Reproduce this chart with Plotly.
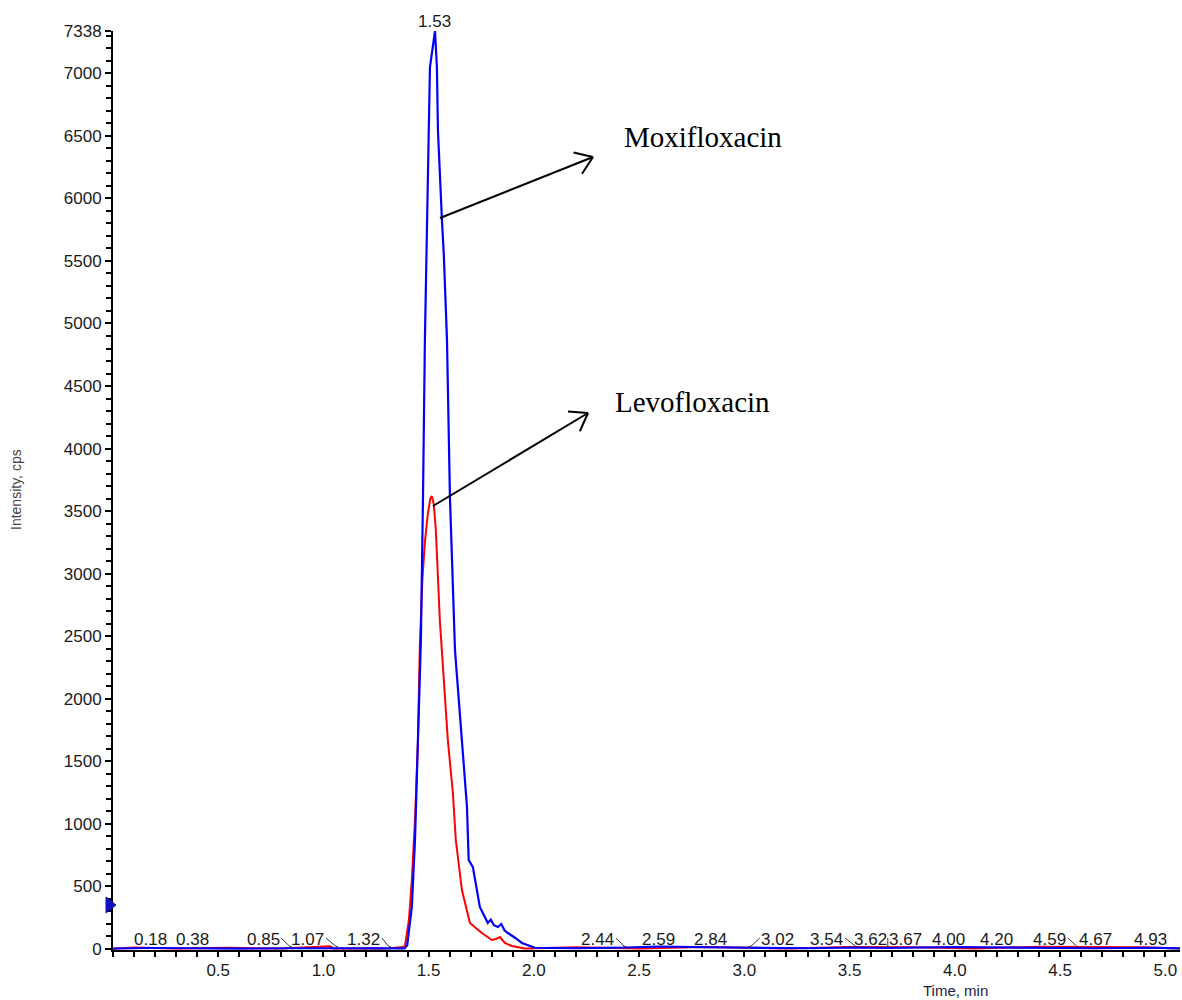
import math
import plotly.graph_objects as go

# ---- chromatogram data (time in min, intensity in cps) ----
moxi_time = [0.00, 0.18, 0.38, 0.60, 0.85, 1.07, 1.32, 1.385, 1.398, 1.420, 1.435, 1.449,
             1.463, 1.473, 1.482, 1.506, 1.530, 1.539, 1.544, 1.563, 1.572, 1.587, 1.601,
             1.625, 1.658, 1.682, 1.690, 1.710, 1.743, 1.765, 1.781, 1.795, 1.810, 1.829,
             1.845, 1.860, 1.876, 1.910, 1.943, 2.005, 2.20, 2.44, 2.59, 2.84, 3.02, 3.30,
             3.54, 3.62, 3.67, 4.00, 4.20, 4.40, 4.59, 4.67, 4.93, 5.07]
moxi_cps = [4, 8, 6, 3, 6, 5, 7, 5, 30, 336, 871, 1670,
            2469, 3612, 4867, 7048, 7338, 7048, 6545, 5825, 5546, 4867, 3612,
            2389, 1670, 1135, 711, 655, 336, 260, 208, 235, 190, 176,
            200, 150, 128, 90, 48, 10, 6, 12, 20, 14, 10, 6,
            12, 10, 8, 16, 12, 6, 8, 6, 10, 5]

levo_time = [0.00, 0.10, 0.30, 0.55, 0.80, 1.01, 1.03, 1.05, 1.30, 1.375, 1.387, 1.406,
             1.420, 1.435, 1.449, 1.458, 1.470, 1.482, 1.496, 1.508, 1.515, 1.524, 1.534,
             1.553, 1.563, 1.591, 1.615, 1.629, 1.658, 1.696, 1.724, 1.753, 1.800, 1.820,
             1.838, 1.862, 1.895, 1.957, 2.20, 2.50, 2.80, 3.20, 3.50, 3.80, 4.10, 4.40,
             4.90, 5.07]
levo_cps = [2, 12, 4, 10, 3, 20, 22, 4, 3, 15, 20, 232,
            551, 1031, 1670, 2429, 2950, 3250, 3480, 3600, 3620, 3560, 3348,
            2629, 2389, 1670, 1247, 871, 471, 208, 168, 128, 72, 80,
            96, 48, 24, 4, 14, 4, 16, 4, 15, 14, 3, 18,
            14, 4]

peak_times = [0.18, 0.38, 0.85, 1.07, 1.32, 1.53, 2.44, 2.59, 2.84, 3.02,
              3.54, 3.62, 3.67, 4.00, 4.20, 4.59, 4.67, 4.93]

y_tickvals = [0, 500, 1000, 1500, 2000, 2500, 3000, 3500, 4000, 4500,
              5000, 5500, 6000, 6500, 7000, 7338]
x_tickvals = [0.5, 1.0, 1.5, 2.0, 2.5, 3.0, 3.5, 4.0, 4.5, 5.0]

compound_labels = ["Moxifloxacin", "Levofloxacin"]

# ---- geometry of the plotting area ----
W, H = 1182, 1000
ML, MR, MT, MB = 113, 2, 31, 50
X0, X1 = 0.0, 5.07
Y0, Y1 = -8.0, 7338.0
PW, PH = W - ML - MR, H - MT - MB


def px_x(px):
    return X0 + (px - ML) / PW * (X1 - X0)


def px_y(py):
    return Y1 - (py - MT) / PH * (Y1 - Y0)


def paper_x(px):
    return (px - ML) / PW


def paper_y(py):
    return (H - MB - py) / PH


BLUE = "#0000FF"
RED = "#FF0000"
TXT = "#1a1a1a"
SANS = "Liberation Sans, Arial, sans-serif"
SERIF = "Liberation Serif, Times New Roman, serif"

fig = go.Figure()
fig.add_trace(go.Scatter(x=levo_time, y=levo_cps, mode="lines",
                         line=dict(color=RED, width=2), name="Levofloxacin",
                         hoverinfo="skip"))
fig.add_trace(go.Scatter(x=moxi_time, y=moxi_cps, mode="lines",
                         line=dict(color=BLUE, width=2.2), name="Moxifloxacin",
                         hoverinfo="skip"))

annotations = []
shapes = []

# threshold marker on the intensity axis
tri = [(106, 897), (116, 905), (106, 913)]
shapes.append(dict(type="path", xref="paper", yref="paper", layer="above",
                   path="M " + " L ".join(f"{paper_x(a)},{paper_y(b)}" for a, b in tri) + " Z",
                   fillcolor="#1010c0", line=dict(color="#1010c0", width=1)))

# retention-time labels; some are pushed sideways and joined to the peak by a hook
label_shift = {0.85: -0.137, 1.07: -0.144, 1.32: -0.128, 2.44: -0.136, 3.02: 0.139,
               3.54: -0.148, 3.62: -0.02, 3.67: 0.097, 4.00: -0.03, 4.59: -0.139}
half_w = 18.0 / PW * (X1 - X0)
for t in peak_times:
    if abs(t - 1.53) < 1e-9:
        annotations.append(dict(xref="x", yref="paper", x=t, y=paper_y(21),
                                text=f"{t:.2f}", showarrow=False,
                                xanchor="center", yanchor="middle",
                                font=dict(family=SANS, size=17, color=TXT)))
        continue
    s = label_shift.get(t, 0.0)
    cx = t + s
    annotations.append(dict(x=cx, y=px_y(939), text=f"{t:.2f}", showarrow=False,
                            xanchor="center", yanchor="middle",
                            font=dict(family=SANS, size=17, color=TXT)))
    if abs(s) > 0.05:
        edge = cx + half_w if s < 0 else cx - half_w
        mid = t - 0.012 if s < 0 else t + 0.012
        shapes.append(dict(type="path", xref="x", yref="y",
                           path=f"M {edge},{px_y(938)} L {mid},{px_y(946)} L {t},{px_y(947)}",
                           line=dict(color="#333333", width=1)))

# compound arrows with open heads
arrows = [((440, 218), (593, 157), (622, 137)),
          ((433, 506), (588, 413), (613, 402))]
for (tail, head, lab), name in zip(arrows, compound_labels):
    shapes.append(dict(type="line", xref="x", yref="y",
                       x0=px_x(tail[0]), y0=px_y(tail[1]),
                       x1=px_x(head[0]), y1=px_y(head[1]),
                       line=dict(color="black", width=2)))
    dx, dy = head[0] - tail[0], head[1] - tail[1]
    L = math.hypot(dx, dy)
    bx, by = -dx / L, -dy / L
    for ang in (math.radians(35), math.radians(-35)):
        wx = bx * math.cos(ang) - by * math.sin(ang)
        wy = bx * math.sin(ang) + by * math.cos(ang)
        shapes.append(dict(type="line", xref="x", yref="y",
                           x0=px_x(head[0]), y0=px_y(head[1]),
                           x1=px_x(head[0] + 20 * wx), y1=px_y(head[1] + 20 * wy),
                           line=dict(color="black", width=2)))
    annotations.append(dict(x=px_x(lab[0]), y=px_y(lab[1]), text=name, showarrow=False,
                            xanchor="left", yanchor="middle",
                            font=dict(family=SERIF, size=29, color="black")))

# axis titles
annotations.append(dict(xref="paper", yref="paper", x=paper_x(955), y=paper_y(990),
                        text="Time, min", showarrow=False,
                        xanchor="center", yanchor="middle",
                        font=dict(family=SANS, size=15, color="#222244")))
annotations.append(dict(xref="paper", yref="paper", x=paper_x(16), y=paper_y(490),
                        text="Intensity, cps", showarrow=False,
                        textangle=-90, xanchor="center", yanchor="middle",
                        font=dict(family=SANS, size=14, color="#444444")))

fig.update_layout(
    width=W, height=H,
    margin=dict(l=ML, r=MR, t=MT, b=MB, pad=0),
    paper_bgcolor="white", plot_bgcolor="white",
    showlegend=False,
    annotations=annotations,
    shapes=shapes,
)

fig.update_xaxes(range=[X0, X1], tickmode="array", tickvals=x_tickvals,
                 ticktext=[f"{v:.1f}" for v in x_tickvals],
                 ticks="outside", ticklen=4, tickwidth=1.5, tickcolor="black",
                 minor=dict(tickmode="linear", tick0=0, dtick=0.1, ticks="outside",
                            ticklen=5, tickwidth=1.5, tickcolor="black"),
                 showline=True, linecolor="black", linewidth=1.5,
                 showgrid=False, zeroline=False,
                 tickfont=dict(family=SANS, size=17, color=TXT))
fig.update_yaxes(range=[Y0, Y1], tickmode="array", tickvals=y_tickvals,
                 ticktext=[str(v) for v in y_tickvals],
                 ticks="outside", ticklen=6, tickwidth=1.5, tickcolor="black",
                 minor=dict(tickmode="linear", tick0=0, dtick=100, ticks="outside",
                            ticklen=5, tickwidth=1.5, tickcolor="black"),
                 showline=True, linecolor="black", linewidth=2,
                 showgrid=False, zeroline=False,
                 tickfont=dict(family=SANS, size=17, color=TXT))

fig.write_html("out.html")
